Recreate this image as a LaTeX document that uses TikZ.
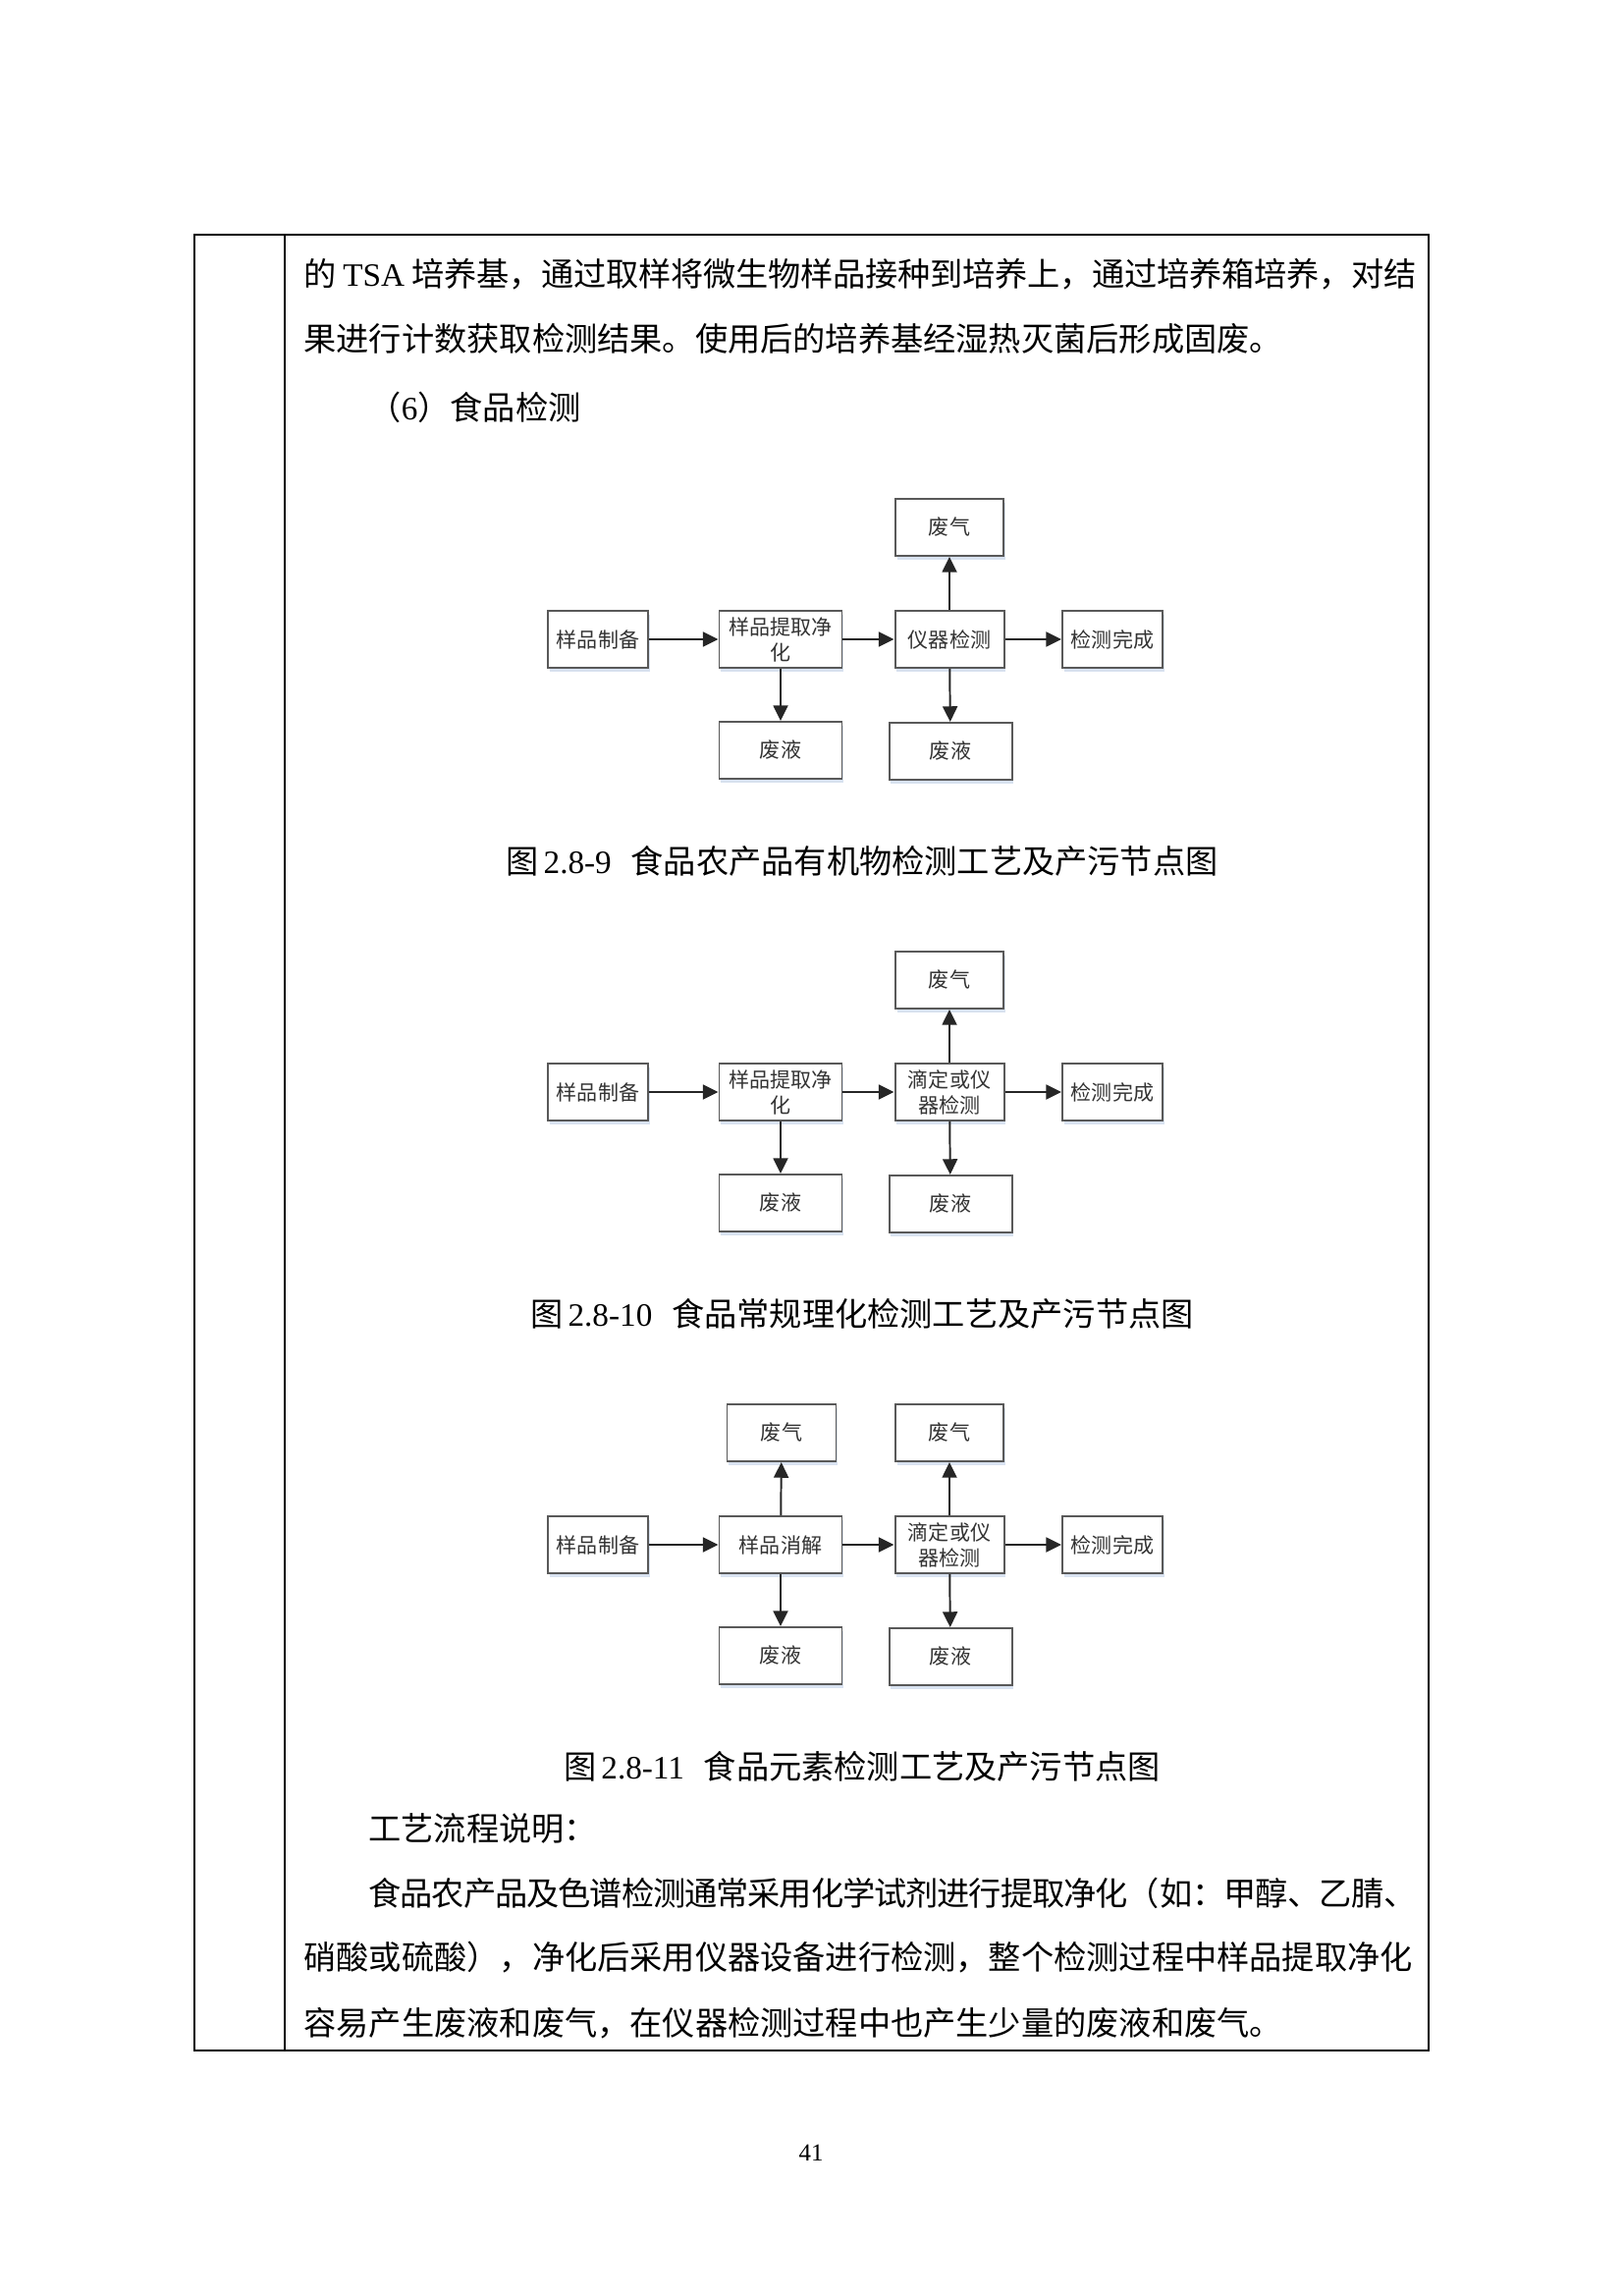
\documentclass[tikz,border=0pt]{standalone}
\usepackage{fontspec}
\setmainfont{Noto Sans CJK SC}
\newfontfamily\lat{Liberation Serif}
\usetikzlibrary{arrows.meta,shadows}
\XeTeXlinebreaklocale "zh"
\XeTeXlinebreakskip=0pt plus 2pt minus 1.5pt
\newcommand{\pxu}{0.127mm}
\definecolor{boxshade}{RGB}{200,214,234}
\begin{document}
\begin{tikzpicture}[x=0.127mm,y=-0.127mm]
\tikzstyle{box}=[draw=black!65,line width=0.25mm,fill=white,minimum height=58*\pxu,inner sep=0pt,align=center,text=black!80,font=\fontsize{7.6}{9.4}\selectfont,drop shadow={shadow xshift=0.2mm,shadow yshift=-0.45mm,fill=boxshade,opacity=0.7}]
\tikzstyle{arr}=[line width=0.25mm,draw=black!85,-{Triangle[length=2mm,width=1.9mm]}]
\tikzstyle{body}=[anchor=west,inner sep=0pt,font=\fontsize{12}{14}\selectfont]
\tikzstyle{captxt}=[inner sep=0pt,font=\fontsize{12}{14}\selectfont]
\useasboundingbox (0,0) rectangle (1653,2338);
\coordinate (tl) at (198,239);
\coordinate (br) at (1455,2088);
\coordinate (ct) at (290,239);
\coordinate (cb) at (290,2088);
\draw[line width=0.3mm] (tl) rectangle (br);
\draw[line width=0.15mm] (ct) -- (cb);
\node[body,align=justify,text width=1133*\pxu] at (309,279) (t1) {\parfillskip=0pt 的\hspace{0.2em}{\lat TSA} 培养基，通过取样将微生物样品接种到培养上，通过培养箱培养，对结};
\node[body] at (309,345) (t2) {果进行计数获取检测结果。使用后的培养基经湿热灭菌后形成固废。};
\node[body] at (375,415) (t3) {（{\lat 6}）食品检测};
\foreach \k/\dy in {1/0,2/461,3/922}{
\node[box,minimum width=102*\pxu] at (609,651+\dy) (a\k) {样品制备};
\node[box,minimum width=102*\pxu] at (1133,651+\dy) (d\k) {检测完成};
\node[box,minimum width=110*\pxu] at (967,537+\dy) (e\k) {废气};
\node[box,minimum width=125*\pxu] at (795,764+\dy) (f\k) {废液};
\node[box,minimum width=125*\pxu] at (968,765+\dy) (g\k) {废液};
}
\node[box,minimum width=125*\pxu] at (795,651) (b1) {样品提取净\\化};
\node[box,minimum width=111*\pxu] at (967,651) (c1) {仪器检测};
\node[box,minimum width=125*\pxu] at (795,1112) (b2) {样品提取净\\化};
\node[box,minimum width=111*\pxu] at (967,1112) (c2) {滴定或仪\\器检测};
\node[box,minimum width=125*\pxu] at (795,1573) (b3) {样品消解};
\node[box,minimum width=111*\pxu] at (967,1573) (c3) {滴定或仪\\器检测};
\node[box,minimum width=111*\pxu] at (796,1459) (h3) {废气};
\foreach \k in {1,2,3}{
\draw[arr] (a\k) -- (b\k);
\draw[arr] (b\k) -- (c\k);
\draw[arr] (c\k) -- (d\k);
\draw[arr] (c\k) -- (e\k);
\draw[arr] (b\k) -- (f\k);
\draw[arr] (c\k) -- (g\k);
}
\draw[arr] (b3) -- (h3);
\node[captxt] at (878,877) (cap1) {图\hspace{0.15em}{\lat 2.8-9}\hspace{0.6em}食品农产品有机物检测工艺及产污节点图};
\node[captxt] at (878,1338) (cap2) {图\hspace{0.15em}{\lat 2.8-10}\hspace{0.6em}食品常规理化检测工艺及产污节点图};
\node[captxt] at (878,1799) (cap3) {图\hspace{0.15em}{\lat 2.8-11}\hspace{0.6em}食品元素检测工艺及产污节点图};
\node[body] at (375,1862) (p0) {工艺流程说明：};
\node[body,align=justify,text width=1067*\pxu] at (375,1928) (p1) {\parfillskip=0pt 食品农产品及色谱检测通常采用化学试剂进行提取净化（如：甲醇、乙腈、};
\node[body,align=justify,text width=1133*\pxu] at (309,1993) (p2) {\parfillskip=0pt 硝酸或硫酸），净化后采用仪器设备进行检测，整个检测过程中样品提取净化};
\node[body] at (309,2060) (p3) {容易产生废液和废气，在仪器检测过程中也产生少量的废液和废气。};
\node[inner sep=0pt,font=\lat\fontsize{9}{10}\selectfont] at (826,2192) (pg) {41};
\end{tikzpicture}
\end{document}
